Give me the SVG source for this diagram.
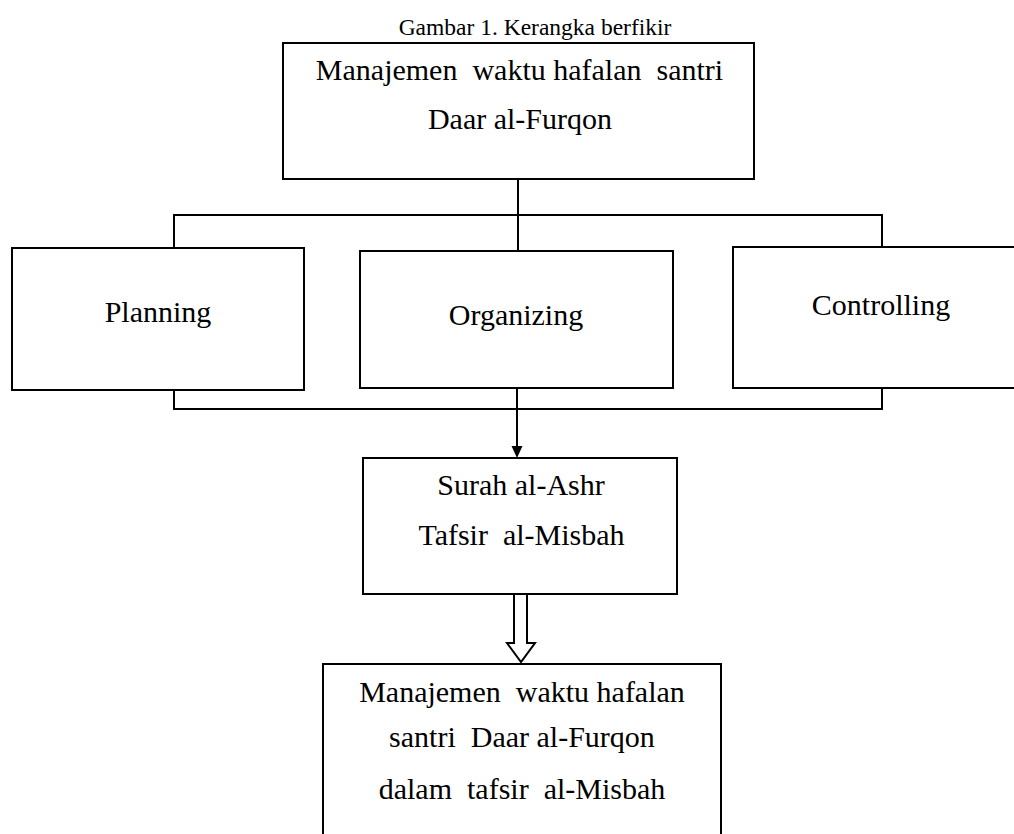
<svg xmlns="http://www.w3.org/2000/svg" width="1014" height="834" viewBox="0 0 1014 834">
<style>
  .box { fill: #ffffff; stroke: #000000; stroke-width: 2; }
  .ln { fill: none; stroke: #000000; stroke-width: 2; }
  .t { font-family: "Liberation Serif", "Times New Roman", serif; font-size: 30px; fill: #000000; text-anchor: middle; }
  .title { font-family: "Liberation Serif", "Times New Roman", serif; font-size: 23.5px; fill: #000000; text-anchor: middle; }
</style>
<rect width="1014" height="834" fill="#ffffff"/>
<text class="title" x="535" y="35">Gambar 1. Kerangka berfikir</text>

<g id="connectors">
  <path class="ln" d="M518 179 V251"/>
  <path class="ln" d="M174 248 V215 H882 V247"/>
  <path class="ln" d="M174 390 V409 H882 V388"/>
  <path class="ln" d="M517 388 V448"/>
  <polygon points="511.5,446 522.5,446 517,458" fill="#000000"/>
  <polygon points="514,594 527,594 527,643 535,643 521,662 507,643 514,643" fill="#ffffff" stroke="#000000" stroke-width="2" stroke-linejoin="miter"/>
</g>

<g id="node-top">
  <rect class="box" x="283" y="43" width="471" height="136"/>
  <text class="t" x="519.5" y="80" xml:space="preserve">Manajemen  waktu hafalan  santri</text>
  <text class="t" x="520" y="129">Daar al-Furqon</text>
</g>

<g id="node-planning">
  <rect class="box" x="12" y="248" width="292" height="142"/>
  <text class="t" x="158" y="322">Planning</text>
</g>

<g id="node-organizing">
  <rect class="box" x="360" y="251" width="313" height="137"/>
  <text class="t" x="516" y="325">Organizing</text>
</g>

<g id="node-controlling">
  <rect class="box" x="733" y="247" width="300" height="141"/>
  <text class="t" x="881" y="315">Controlling</text>
</g>

<g id="node-surah">
  <rect class="box" x="363" y="458" width="314" height="136"/>
  <text class="t" x="521" y="495">Surah al-Ashr</text>
  <text class="t" x="521.5" y="545" xml:space="preserve">Tafsir  al-Misbah</text>
</g>

<g id="node-result">
  <rect class="box" x="323" y="664" width="398" height="190"/>
  <text class="t" x="522" y="702" xml:space="preserve">Manajemen  waktu hafalan</text>
  <text class="t" x="522" y="747" xml:space="preserve">santri  Daar al-Furqon</text>
  <text class="t" x="522" y="799" xml:space="preserve">dalam  tafsir  al-Misbah</text>
</g>
</svg>
